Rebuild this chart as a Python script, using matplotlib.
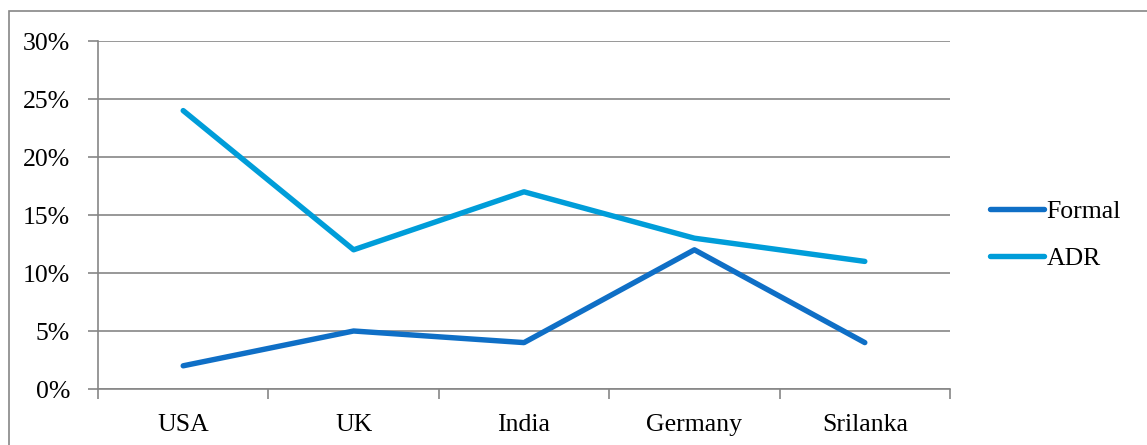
import numpy as np
import matplotlib.pyplot as plt
from matplotlib.patches import Rectangle
from matplotlib.ticker import FixedLocator

countries = ["USA", "UK", "India", "Germany", "Srilanka"]
formal = [2, 5, 4, 12, 4]
adr = [24, 12, 17, 13, 11]
yticks = [0, 5, 10, 15, 20, 25, 30]

plt.rcParams["font.family"] = ["Liberation Serif", "DejaVu Serif"]
fs = 18.5

W, H = 1147, 445
fig = plt.figure(figsize=(W / 100, H / 100), dpi=100)
ax = fig.add_axes([98 / W, 1 - 389 / H, (950 - 98) / W, (389 - 41) / H])

# outer chart border (right/bottom run off the picture)
fig.patches.append(Rectangle((9 / W, -0.1), 1.2, 1 - 11 / H + 0.1,
                             transform=fig.transFigure, fill=False,
                             edgecolor="#868686", linewidth=1.2))

x = np.arange(len(countries))
ax.plot(x, formal, color="#0F6FC6", linewidth=3.9, solid_capstyle="round",
        label="Formal", zorder=3)
ax.plot(x, adr, color="#009DD9", linewidth=3.9, solid_capstyle="round",
        label="ADR", zorder=3)

ax.set_xlim(-0.5, len(countries) - 0.5)
ax.set_ylim(0, 30)
ax.set_yticks(yticks)
ax.set_yticklabels([f"{v}%" for v in yticks])
ax.set_xticks(x)
ax.set_xticklabels(countries)
ax.xaxis.set_minor_locator(FixedLocator(np.arange(-0.5, len(countries), 1.0)))

ax.grid(axis="y", color="#868686", linewidth=1.2)
ax.set_axisbelow(True)
for s in ["top", "right"]:
    ax.spines[s].set_visible(False)
for s in ["left", "bottom"]:
    ax.spines[s].set_color("#868686")
    ax.spines[s].set_linewidth(1.2)

ax.tick_params(axis="y", length=7, width=1.2, color="#868686", pad=13, labelsize=fs)
ax.tick_params(axis="x", which="major", length=0, pad=18, labelsize=fs)
ax.tick_params(axis="x", which="minor", length=7, width=1.2, color="#868686")

ax.legend(loc="center left", bbox_to_anchor=(990 / W, 1 - 235 / H),
          bbox_transform=fig.transFigure, frameon=False, fontsize=fs,
          handlelength=2.1, handletextpad=0.1, labelspacing=0.9,
          borderaxespad=0, borderpad=0)

fig.savefig("out.png", dpi=100)
